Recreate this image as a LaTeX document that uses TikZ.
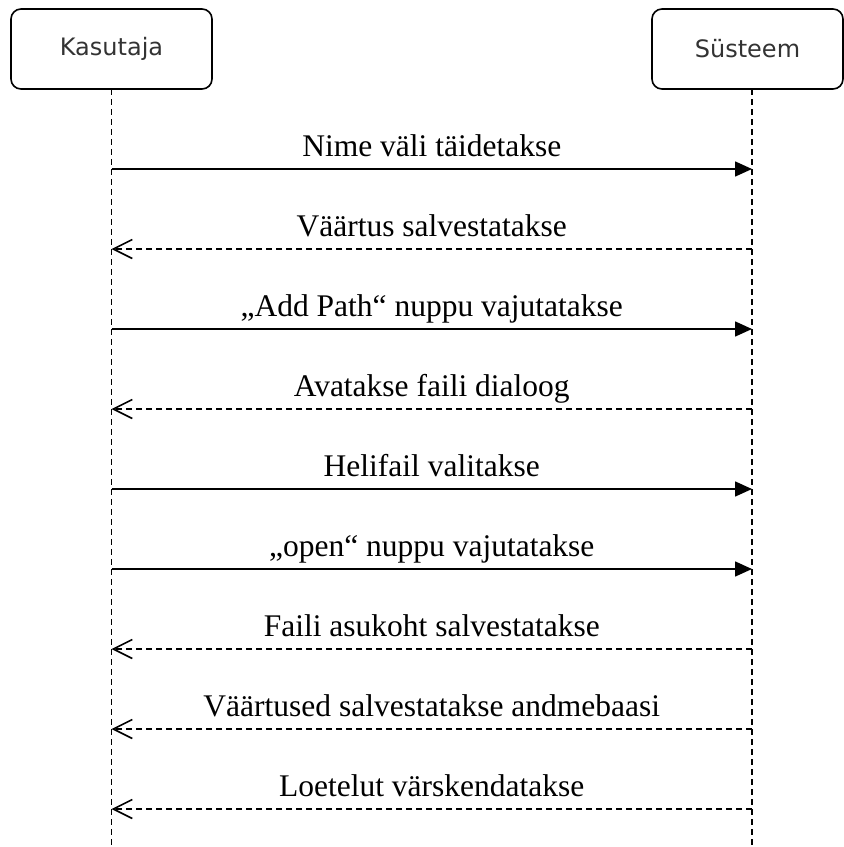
\documentclass[tikz,border=0pt]{standalone}
\usepackage{fontspec}
\setmainfont{Liberation Serif}
\newfontfamily\actorfont{DejaVu Sans}
\usetikzlibrary{arrows.meta}

\begin{document}
\begin{tikzpicture}[line join=round, x=1pt, y=-1pt,
	actor/.style={draw, line width=1.6pt, rounded corners=10pt, minimum height=80pt,
		font=\actorfont\fontsize{24}{28}\selectfont, text=black!80},
	life/.style={line width=1.5pt, dash pattern=on 6pt off 4pt},
	call/.style={line width=1.6pt, -{Triangle[length=17pt,width=15pt]}},
	reply/.style={line width=1.6pt, dash pattern=on 6pt off 4pt,
		-{Straight Barb[length=19pt,width=19pt]}},
	lbl/.style={midway, anchor=base, yshift=13pt, font=\fontsize{31.5}{36}\selectfont}]
	\useasboundingbox (0,0) rectangle (844,847);
	\node[actor, minimum width=201pt] (kas) at (111.5,49) {Kasutaja};
	\node[actor, minimum width=191pt] (sys) at (747.5,49) {Süsteem};
	% elujooned
	\coordinate (kTop) at (111.5,89);
	\coordinate (sTop) at (752,89);
	\coordinate (kEnd) at (111.5,847);
	\coordinate (sEnd) at (752,847);
	\draw[life] (kTop)--(kEnd);
	\draw[life] (sTop)--(sEnd);
	\foreach \i [evaluate=\i as \y using 89+80*\i] in {1,...,9}{
		\coordinate (k\i) at (111.5,\y);
		\coordinate (s\i) at (752,\y);
	}
	% sonumid
	\foreach \i/\a/\b/\kind/\txt in {1/k/s/call/{Nime väli täidetakse},
		2/s/k/reply/{Väärtus salvestatakse},
		3/k/s/call/{„Add Path“ nuppu vajutatakse},
		4/s/k/reply/{Avatakse faili dialoog},
		5/k/s/call/{Helifail valitakse},
		6/k/s/call/{„open“ nuppu vajutatakse},
		7/s/k/reply/{Faili asukoht salvestatakse},
		8/s/k/reply/{Väärtused salvestatakse andmebaasi},
		9/s/k/reply/{Loetelut värskendatakse}}
	\draw[\kind] (\a\i)--(\b\i) node[lbl] (m\i) {\txt};
\end{tikzpicture}
\end{document}
